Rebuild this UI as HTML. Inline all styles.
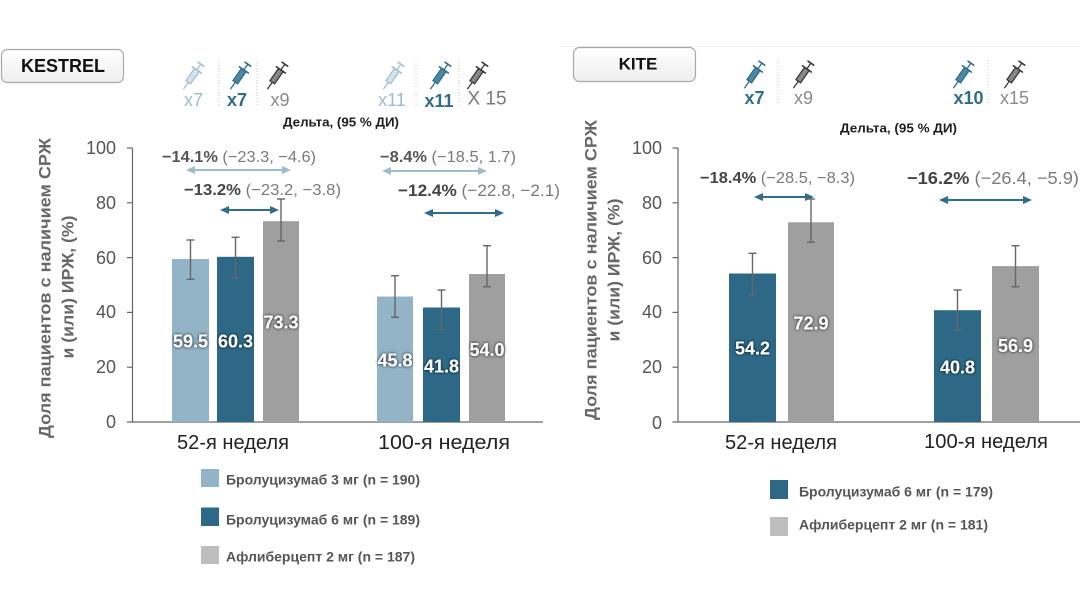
<!DOCTYPE html>
<html>
<head>
<meta charset="utf-8">
<style>
  html, body { margin: 0; padding: 0; background: #ffffff; }
  body { width: 1080px; height: 613px; overflow: hidden; }
  svg { display: block; font-family: "Liberation Sans", "DejaVu Sans", sans-serif; }
</style>
</head>
<body>
<svg width="1080" height="613" viewBox="0 0 1080 613" xmlns="http://www.w3.org/2000/svg">
  <defs>
    <linearGradient id="boxg" x1="0" y1="0" x2="0" y2="1">
      <stop offset="0" stop-color="#ffffff"/>
      <stop offset="1" stop-color="#eeeeee"/>
    </linearGradient>
    <filter id="halo" x="-20%" y="-40%" width="140%" height="180%">
      <feGaussianBlur in="SourceAlpha" stdDeviation="1.6" result="b"/>
      <feComponentTransfer in="b" result="b2"><feFuncA type="linear" slope="0.9"/></feComponentTransfer>
      <feMerge><feMergeNode in="b2"/><feMergeNode in="SourceGraphic"/></feMerge>
    </filter>
  </defs>

  <rect x="0" y="0" width="1080" height="613" fill="#ffffff"/>
  <line x1="560" y1="46.5" x2="1080" y2="46.5" stroke="#f2f2f2" stroke-width="1"/>

  <!-- ===================== KESTREL ===================== -->
  <rect x="1.5" y="49.5" width="122" height="33" rx="6" ry="6" fill="url(#boxg)" stroke="#a8a8a8" stroke-width="1.2"/>
  <text x="63" y="66" font-size="18" font-weight="bold" fill="#111" text-anchor="middle" dominant-baseline="central">KESTREL</text>

  <!-- syringe icons group 1 -->
  <g transform="translate(194,74) rotate(-55)" fill="none" stroke="#a3c1d1" stroke-width="1.3" stroke-linecap="round">
    <line x1="-18" y1="0" x2="-10" y2="0"/>
    <rect x="-10" y="-2.8" width="15" height="5.6" fill="#d5e4ec"/>
    <line x1="5" y1="-5.5" x2="5" y2="5.5" stroke-width="1.6"/>
    <line x1="5" y1="0" x2="12" y2="0"/>
    <line x1="12" y1="-3.5" x2="12" y2="3.5" stroke-width="1.6"/>
  </g>
  <g transform="translate(241,74) rotate(-55)" fill="none" stroke="#2f6d8b" stroke-width="1.3" stroke-linecap="round">
    <line x1="-18" y1="0" x2="-10" y2="0"/>
    <rect x="-10" y="-2.8" width="15" height="5.6" fill="#4f87a3"/>
    <line x1="5" y1="-5.5" x2="5" y2="5.5" stroke-width="1.6"/>
    <line x1="5" y1="0" x2="12" y2="0"/>
    <line x1="12" y1="-3.5" x2="12" y2="3.5" stroke-width="1.6"/>
  </g>
  <g transform="translate(278,74) rotate(-55)" fill="none" stroke="#3a3a3a" stroke-width="1.3" stroke-linecap="round">
    <line x1="-18" y1="0" x2="-10" y2="0"/>
    <rect x="-10" y="-2.8" width="15" height="5.6" fill="#888"/>
    <line x1="5" y1="-5.5" x2="5" y2="5.5" stroke-width="1.6"/>
    <line x1="5" y1="0" x2="12" y2="0"/>
    <line x1="12" y1="-3.5" x2="12" y2="3.5" stroke-width="1.6"/>
  </g>
  <line x1="219" y1="62" x2="219" y2="106" stroke="#c8c8c8" stroke-width="1" stroke-dasharray="1 2"/>
  <line x1="257" y1="62" x2="257" y2="106" stroke="#c8c8c8" stroke-width="1" stroke-dasharray="1 2"/>
  <text x="193.5" y="100" font-size="18" fill="#9dbccc" text-anchor="middle" dominant-baseline="central">x7</text>
  <text x="237" y="100" font-size="18" font-weight="bold" fill="#2f6d8b" text-anchor="middle" dominant-baseline="central">x7</text>
  <text x="280" y="100" font-size="18" fill="#8a8a8a" text-anchor="middle" dominant-baseline="central">x9</text>

  <!-- syringe icons group 2 -->
  <g transform="translate(394,74) rotate(-55)" fill="none" stroke="#a3c1d1" stroke-width="1.3" stroke-linecap="round">
    <line x1="-18" y1="0" x2="-10" y2="0"/>
    <rect x="-10" y="-2.8" width="15" height="5.6" fill="#d5e4ec"/>
    <line x1="5" y1="-5.5" x2="5" y2="5.5" stroke-width="1.6"/>
    <line x1="5" y1="0" x2="12" y2="0"/>
    <line x1="12" y1="-3.5" x2="12" y2="3.5" stroke-width="1.6"/>
  </g>
  <g transform="translate(441,74) rotate(-55)" fill="none" stroke="#2f6d8b" stroke-width="1.3" stroke-linecap="round">
    <line x1="-18" y1="0" x2="-10" y2="0"/>
    <rect x="-10" y="-2.8" width="15" height="5.6" fill="#4f87a3"/>
    <line x1="5" y1="-5.5" x2="5" y2="5.5" stroke-width="1.6"/>
    <line x1="5" y1="0" x2="12" y2="0"/>
    <line x1="12" y1="-3.5" x2="12" y2="3.5" stroke-width="1.6"/>
  </g>
  <g transform="translate(478,74) rotate(-55)" fill="none" stroke="#3a3a3a" stroke-width="1.3" stroke-linecap="round">
    <line x1="-18" y1="0" x2="-10" y2="0"/>
    <rect x="-10" y="-2.8" width="15" height="5.6" fill="#888"/>
    <line x1="5" y1="-5.5" x2="5" y2="5.5" stroke-width="1.6"/>
    <line x1="5" y1="0" x2="12" y2="0"/>
    <line x1="12" y1="-3.5" x2="12" y2="3.5" stroke-width="1.6"/>
  </g>
  <line x1="416" y1="62" x2="416" y2="106" stroke="#c8c8c8" stroke-width="1" stroke-dasharray="1 2"/>
  <line x1="459" y1="62" x2="459" y2="106" stroke="#c8c8c8" stroke-width="1" stroke-dasharray="1 2"/>
  <text x="392" y="100" font-size="18" fill="#9dbccc" text-anchor="middle" dominant-baseline="central">x11</text>
  <text x="439" y="101" font-size="18" font-weight="bold" fill="#2f6d8b" text-anchor="middle" dominant-baseline="central">x11</text>
  <text x="487" y="99" font-size="19" fill="#7a7a7a" text-anchor="middle" dominant-baseline="central">X 15</text>

  <text x="341" y="122" font-size="13" font-weight="bold" fill="#1e1e1e" text-anchor="middle" dominant-baseline="central" textLength="116" lengthAdjust="spacingAndGlyphs">Дельта, (95 % ДИ)</text>

  <!-- delta annotations left -->
  <text x="162" y="157" font-size="16" dominant-baseline="central" textLength="154" lengthAdjust="spacingAndGlyphs"><tspan font-weight="bold" fill="#555">−14.1%</tspan><tspan fill="#7a7a7a"> (−23.3, −4.6)</tspan></text>
  <line x1="191" y1="170" x2="286" y2="170" stroke="#9dbccc" stroke-width="2"/>
  <polygon points="186,170 195,166 195,174" fill="#9dbccc"/>
  <polygon points="291,170 282,166 282,174" fill="#9dbccc"/>

  <text x="184" y="190" font-size="16" dominant-baseline="central" textLength="157" lengthAdjust="spacingAndGlyphs"><tspan font-weight="bold" fill="#444">−13.2%</tspan><tspan fill="#7a7a7a"> (−23.2, −3.8)</tspan></text>
  <line x1="225" y1="210" x2="274" y2="210" stroke="#2f6d8b" stroke-width="2"/>
  <polygon points="220,210 229,206 229,214" fill="#2f6d8b"/>
  <polygon points="279,210 270,206 270,214" fill="#2f6d8b"/>

  <text x="380" y="157" font-size="16" dominant-baseline="central" textLength="136" lengthAdjust="spacingAndGlyphs"><tspan font-weight="bold" fill="#555">−8.4%</tspan><tspan fill="#7a7a7a"> (−18.5, 1.7)</tspan></text>
  <line x1="387" y1="171" x2="482" y2="171" stroke="#9dbccc" stroke-width="2"/>
  <polygon points="382,171 391,167 391,175" fill="#9dbccc"/>
  <polygon points="487,171 478,167 478,175" fill="#9dbccc"/>

  <text x="398" y="190" font-size="17" dominant-baseline="central" textLength="162" lengthAdjust="spacingAndGlyphs"><tspan font-weight="bold" fill="#444">−12.4%</tspan><tspan fill="#7a7a7a"> (−22.8, −2.1)</tspan></text>
  <line x1="429" y1="213" x2="499" y2="213" stroke="#2f6d8b" stroke-width="2"/>
  <polygon points="424,213 433,209 433,217" fill="#2f6d8b"/>
  <polygon points="504,213 495,209 495,217" fill="#2f6d8b"/>

  <!-- y axis label left -->
  <text transform="translate(45,288) rotate(-90)" font-size="17" font-weight="bold" fill="#676767" text-anchor="middle" dominant-baseline="central" textLength="300" lengthAdjust="spacingAndGlyphs">Доля пациентов с наличием СРЖ</text>
  <text transform="translate(68,287) rotate(-90)" font-size="17" font-weight="bold" fill="#676767" text-anchor="middle" dominant-baseline="central" textLength="143" lengthAdjust="spacingAndGlyphs">и (или) ИРЖ, (%)</text>

  <!-- axes left -->
  <line x1="132.5" y1="148" x2="132.5" y2="422" stroke="#666" stroke-width="1.2"/>
  <line x1="127" y1="422" x2="543" y2="422" stroke="#666" stroke-width="1.2"/>
  <g stroke="#666" stroke-width="1.2">
    <line x1="127" y1="148" x2="132.5" y2="148"/>
    <line x1="127" y1="202.8" x2="132.5" y2="202.8"/>
    <line x1="127" y1="257.6" x2="132.5" y2="257.6"/>
    <line x1="127" y1="312.4" x2="132.5" y2="312.4"/>
    <line x1="127" y1="367.2" x2="132.5" y2="367.2"/>
  </g>
  <g font-size="18" fill="#555" text-anchor="end" dominant-baseline="central">
    <text x="116" y="148">100</text>
    <text x="116" y="203">80</text>
    <text x="116" y="258">60</text>
    <text x="116" y="312">40</text>
    <text x="116" y="367">20</text>
    <text x="116" y="422">0</text>
  </g>

  <!-- bars left -->
  <rect x="172" y="259" width="37" height="163" fill="#93b4c6"/>
  <rect x="217" y="256.8" width="37" height="165.2" fill="#2d6987"/>
  <rect x="263" y="221.2" width="36" height="200.8" fill="#9f9f9f"/>
  <rect x="377" y="296.5" width="36" height="125.5" fill="#93b4c6"/>
  <rect x="423" y="307.5" width="37" height="114.5" fill="#2d6987"/>
  <rect x="469" y="274" width="36" height="148" fill="#9f9f9f"/>

  <!-- error bars left -->
  <g stroke="#666" stroke-width="1.4">
    <line x1="190.5" y1="240" x2="190.5" y2="279.3"/><line x1="186.5" y1="240" x2="194.5" y2="240"/><line x1="186.5" y1="279.3" x2="194.5" y2="279.3"/>
    <line x1="235.5" y1="237.3" x2="235.5" y2="277.7"/><line x1="231.5" y1="237.3" x2="239.5" y2="237.3"/><line x1="231.5" y1="277.7" x2="239.5" y2="277.7"/>
    <line x1="281" y1="199" x2="281" y2="241"/><line x1="277" y1="199" x2="285" y2="199"/><line x1="277" y1="241" x2="285" y2="241"/>
    <line x1="395" y1="275.7" x2="395" y2="317.3"/><line x1="391" y1="275.7" x2="399" y2="275.7"/><line x1="391" y1="317.3" x2="399" y2="317.3"/>
    <line x1="441.5" y1="290" x2="441.5" y2="330"/><line x1="437.5" y1="290" x2="445.5" y2="290"/><line x1="437.5" y1="330" x2="445.5" y2="330"/>
    <line x1="487" y1="245.7" x2="487" y2="286.7"/><line x1="483" y1="245.7" x2="491" y2="245.7"/><line x1="483" y1="286.7" x2="491" y2="286.7"/>
  </g>

  <!-- value labels left -->
  <g font-size="18" font-weight="bold" fill="#ffffff" text-anchor="middle" dominant-baseline="central" filter="url(#halo)">
    <text x="190.5" y="341.7">59.5</text>
    <text x="235.5" y="341.7">60.3</text>
    <text x="281" y="322.7">73.3</text>
    <text x="395" y="360.7">45.8</text>
    <text x="441.5" y="366.7">41.8</text>
    <text x="487" y="350">54.0</text>
  </g>

  <g font-size="20" fill="#222" text-anchor="middle" dominant-baseline="central">
    <text x="233" y="443" textLength="112" lengthAdjust="spacingAndGlyphs">52-я неделя</text>
    <text x="444" y="443" textLength="132" lengthAdjust="spacingAndGlyphs">100-я неделя</text>
  </g>

  <!-- legend left -->
  <rect x="201" y="469" width="18" height="18" fill="#93b4c6"/>
  <rect x="201" y="507.5" width="18" height="18.5" fill="#2d6987"/>
  <rect x="201" y="546" width="18" height="18" fill="#bdbdbd"/>
  <g font-size="13.5" font-weight="bold" fill="#555" dominant-baseline="central">
    <text x="226" y="480" textLength="194" lengthAdjust="spacingAndGlyphs">Бролуцизумаб 3 мг (n = 190)</text>
    <text x="226" y="520" textLength="194" lengthAdjust="spacingAndGlyphs">Бролуцизумаб 6 мг (n = 189)</text>
    <text x="226" y="557" textLength="189" lengthAdjust="spacingAndGlyphs">Афлиберцепт 2 мг (n = 187)</text>
  </g>

  <!-- ===================== KITE ===================== -->
  <rect x="573.5" y="47.5" width="122" height="34" rx="6" ry="6" fill="url(#boxg)" stroke="#a8a8a8" stroke-width="1.2"/>
  <text x="638" y="64" font-size="17" font-weight="bold" fill="#111" text-anchor="middle" dominant-baseline="central">KITE</text>

  <g transform="translate(755,73) rotate(-55)" fill="none" stroke="#2f6d8b" stroke-width="1.3" stroke-linecap="round">
    <line x1="-18" y1="0" x2="-10" y2="0"/>
    <rect x="-10" y="-2.8" width="15" height="5.6" fill="#4f87a3"/>
    <line x1="5" y1="-5.5" x2="5" y2="5.5" stroke-width="1.6"/>
    <line x1="5" y1="0" x2="12" y2="0"/>
    <line x1="12" y1="-3.5" x2="12" y2="3.5" stroke-width="1.6"/>
  </g>
  <g transform="translate(804,73) rotate(-55)" fill="none" stroke="#3a3a3a" stroke-width="1.3" stroke-linecap="round">
    <line x1="-18" y1="0" x2="-10" y2="0"/>
    <rect x="-10" y="-2.8" width="15" height="5.6" fill="#888"/>
    <line x1="5" y1="-5.5" x2="5" y2="5.5" stroke-width="1.6"/>
    <line x1="5" y1="0" x2="12" y2="0"/>
    <line x1="12" y1="-3.5" x2="12" y2="3.5" stroke-width="1.6"/>
  </g>
  <g transform="translate(964,73) rotate(-55)" fill="none" stroke="#2f6d8b" stroke-width="1.3" stroke-linecap="round">
    <line x1="-18" y1="0" x2="-10" y2="0"/>
    <rect x="-10" y="-2.8" width="15" height="5.6" fill="#4f87a3"/>
    <line x1="5" y1="-5.5" x2="5" y2="5.5" stroke-width="1.6"/>
    <line x1="5" y1="0" x2="12" y2="0"/>
    <line x1="12" y1="-3.5" x2="12" y2="3.5" stroke-width="1.6"/>
  </g>
  <g transform="translate(1015,73) rotate(-55)" fill="none" stroke="#3a3a3a" stroke-width="1.3" stroke-linecap="round">
    <line x1="-18" y1="0" x2="-10" y2="0"/>
    <rect x="-10" y="-2.8" width="15" height="5.6" fill="#888"/>
    <line x1="5" y1="-5.5" x2="5" y2="5.5" stroke-width="1.6"/>
    <line x1="5" y1="0" x2="12" y2="0"/>
    <line x1="12" y1="-3.5" x2="12" y2="3.5" stroke-width="1.6"/>
  </g>
  <line x1="778" y1="60" x2="778" y2="104" stroke="#c8c8c8" stroke-width="1" stroke-dasharray="1 2"/>
  <line x1="988" y1="60" x2="988" y2="104" stroke="#c8c8c8" stroke-width="1" stroke-dasharray="1 2"/>
  <text x="754.5" y="98" font-size="18" font-weight="bold" fill="#2f6d8b" text-anchor="middle" dominant-baseline="central">x7</text>
  <text x="803.5" y="98" font-size="18" fill="#8a8a8a" text-anchor="middle" dominant-baseline="central">x9</text>
  <text x="968.5" y="98" font-size="18" font-weight="bold" fill="#2f6d8b" text-anchor="middle" dominant-baseline="central">x10</text>
  <text x="1014.5" y="98" font-size="18" fill="#8a8a8a" text-anchor="middle" dominant-baseline="central">x15</text>

  <text x="898.5" y="128" font-size="13" font-weight="bold" fill="#1e1e1e" text-anchor="middle" dominant-baseline="central" textLength="117" lengthAdjust="spacingAndGlyphs">Дельта, (95 % ДИ)</text>

  <text x="700" y="178" font-size="16" dominant-baseline="central" textLength="155" lengthAdjust="spacingAndGlyphs"><tspan font-weight="bold" fill="#444">−18.4%</tspan><tspan fill="#7a7a7a"> (−28.5, −8.3)</tspan></text>
  <line x1="759" y1="197" x2="809" y2="197" stroke="#2f6d8b" stroke-width="2"/>
  <polygon points="754,197 763,193 763,201" fill="#2f6d8b"/>
  <polygon points="814,197 805,193 805,201" fill="#2f6d8b"/>

  <text x="907" y="178" font-size="17.5" dominant-baseline="central" textLength="172" lengthAdjust="spacingAndGlyphs"><tspan font-weight="bold" fill="#444">−16.2%</tspan><tspan fill="#7a7a7a"> (−26.4, −5.9)</tspan></text>
  <line x1="944" y1="200" x2="1027" y2="200" stroke="#2f6d8b" stroke-width="2"/>
  <polygon points="939,200 948,196 948,204" fill="#2f6d8b"/>
  <polygon points="1032,200 1023,196 1023,204" fill="#2f6d8b"/>

  <!-- y axis label KITE -->
  <text transform="translate(591,270) rotate(-90)" font-size="17" font-weight="bold" fill="#676767" text-anchor="middle" dominant-baseline="central" textLength="300" lengthAdjust="spacingAndGlyphs">Доля пациентов с наличием СРЖ</text>
  <text transform="translate(614,270) rotate(-90)" font-size="17" font-weight="bold" fill="#676767" text-anchor="middle" dominant-baseline="central" textLength="143" lengthAdjust="spacingAndGlyphs">и (или) ИРЖ, (%)</text>

  <!-- axes KITE -->
  <line x1="678" y1="148" x2="678" y2="422" stroke="#666" stroke-width="1.2"/>
  <line x1="672.5" y1="422" x2="1080" y2="422" stroke="#666" stroke-width="1.2"/>
  <g stroke="#666" stroke-width="1.2">
    <line x1="672.5" y1="148" x2="678" y2="148"/>
    <line x1="672.5" y1="202.8" x2="678" y2="202.8"/>
    <line x1="672.5" y1="257.6" x2="678" y2="257.6"/>
    <line x1="672.5" y1="312.4" x2="678" y2="312.4"/>
    <line x1="672.5" y1="367.2" x2="678" y2="367.2"/>
  </g>
  <g font-size="18" fill="#555" text-anchor="end" dominant-baseline="central">
    <text x="662" y="148">100</text>
    <text x="662" y="203">80</text>
    <text x="662" y="258">60</text>
    <text x="662" y="312">40</text>
    <text x="662" y="367">20</text>
    <text x="662" y="423">0</text>
  </g>

  <!-- bars KITE -->
  <rect x="729" y="273.5" width="47" height="148.5" fill="#2d6987"/>
  <rect x="788" y="222.3" width="46" height="199.7" fill="#9f9f9f"/>
  <rect x="934" y="310.2" width="47" height="111.8" fill="#2d6987"/>
  <rect x="992" y="266.1" width="47" height="155.9" fill="#9f9f9f"/>

  <g stroke="#666" stroke-width="1.4">
    <line x1="752.5" y1="253.3" x2="752.5" y2="295"/><line x1="748.5" y1="253.3" x2="756.5" y2="253.3"/><line x1="748.5" y1="295" x2="756.5" y2="295"/>
    <line x1="811" y1="199" x2="811" y2="242.3"/><line x1="807" y1="199" x2="815" y2="199"/><line x1="807" y1="242.3" x2="815" y2="242.3"/>
    <line x1="957.5" y1="290" x2="957.5" y2="330"/><line x1="953.5" y1="290" x2="961.5" y2="290"/><line x1="953.5" y1="330" x2="961.5" y2="330"/>
    <line x1="1015.5" y1="245.7" x2="1015.5" y2="286.7"/><line x1="1011.5" y1="245.7" x2="1019.5" y2="245.7"/><line x1="1011.5" y1="286.7" x2="1019.5" y2="286.7"/>
  </g>

  <g font-size="18" font-weight="bold" fill="#ffffff" text-anchor="middle" dominant-baseline="central" filter="url(#halo)">
    <text x="752.5" y="348.3">54.2</text>
    <text x="811" y="323.3">72.9</text>
    <text x="957.5" y="367.3">40.8</text>
    <text x="1015.5" y="346">56.9</text>
  </g>

  <g font-size="20" fill="#222" text-anchor="middle" dominant-baseline="central">
    <text x="781" y="443" textLength="112" lengthAdjust="spacingAndGlyphs">52-я неделя</text>
    <text x="986" y="442" textLength="124" lengthAdjust="spacingAndGlyphs">100-я неделя</text>
  </g>

  <!-- legend KITE -->
  <rect x="770" y="480" width="18" height="19" fill="#2d6987"/>
  <rect x="770" y="517" width="18" height="19" fill="#bdbdbd"/>
  <g font-size="13.5" font-weight="bold" fill="#555" dominant-baseline="central">
    <text x="799" y="492" textLength="194" lengthAdjust="spacingAndGlyphs">Бролуцизумаб 6 мг (n = 179)</text>
    <text x="799" y="525" textLength="189" lengthAdjust="spacingAndGlyphs">Афлиберцепт 2 мг (n = 181)</text>
  </g>
</svg>
</body>
</html>
